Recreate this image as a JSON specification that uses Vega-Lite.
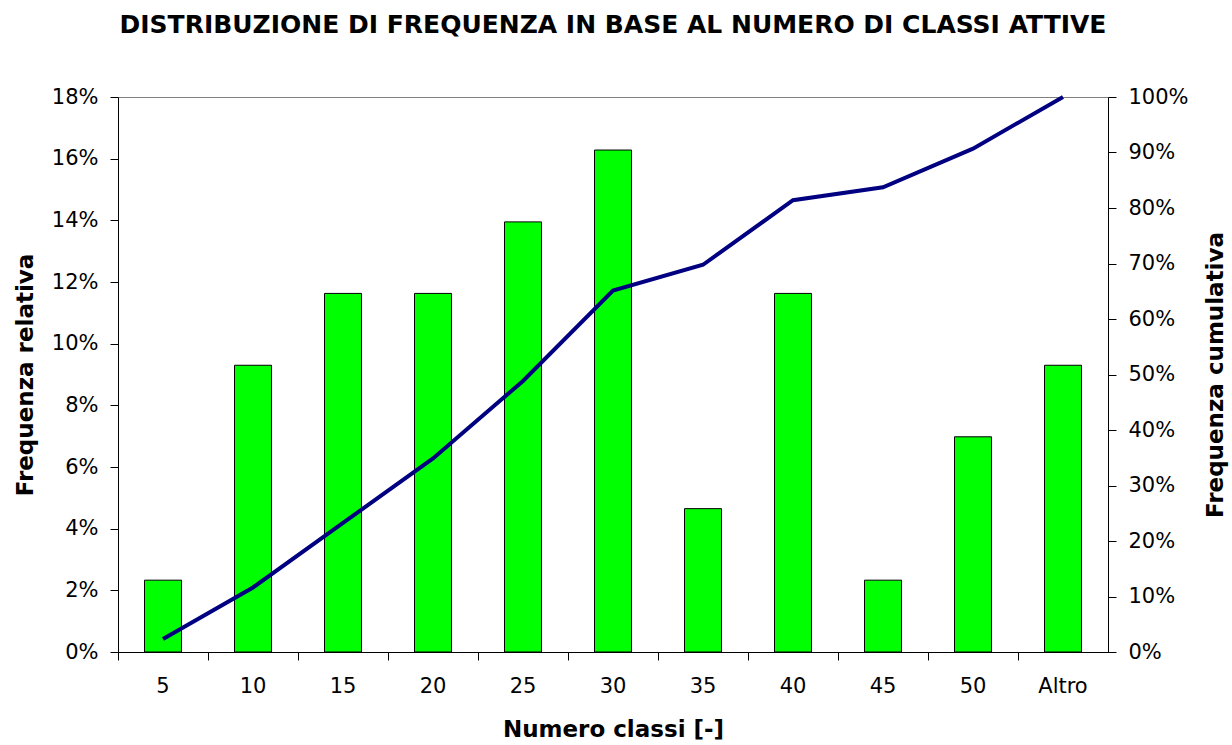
{
  "$schema": "https://vega.github.io/schema/vega-lite/v6.json",
  "width": 990,
  "height": 555,
  "autosize": "none",
  "padding": {"left": 118, "top": 97, "right": 124, "bottom": 93},
  "background": "white",
  "config": {
    "font": "DejaVu Sans",
    "view": {"stroke": "#808080", "strokeWidth": 1},
    "axis": {
      "labelFont": "DejaVu Sans",
      "labelFontSize": 21,
      "labelColor": "black",
      "titleFont": "DejaVu Sans",
      "titleFontSize": 23,
      "titleFontWeight": "bold",
      "titleColor": "black",
      "domainColor": "black",
      "tickColor": "black",
      "grid": false
    }
  },
  "title": {
    "text": "DISTRIBUZIONE DI FREQUENZA IN BASE AL NUMERO DI CLASSI ATTIVE",
    "font": "DejaVu Sans",
    "fontSize": 25,
    "fontWeight": "bold",
    "color": "black",
    "offset": 48
  },
  "data": {
    "values": [
      {"classe": "5", "freq": 0.0233, "cum": 0.0233},
      {"classe": "10", "freq": 0.0930, "cum": 0.1163},
      {"classe": "15", "freq": 0.1163, "cum": 0.2326},
      {"classe": "20", "freq": 0.1163, "cum": 0.3488},
      {"classe": "25", "freq": 0.1395, "cum": 0.4884},
      {"classe": "30", "freq": 0.1628, "cum": 0.6512},
      {"classe": "35", "freq": 0.0465, "cum": 0.6977},
      {"classe": "40", "freq": 0.1163, "cum": 0.8140},
      {"classe": "45", "freq": 0.0233, "cum": 0.8372},
      {"classe": "50", "freq": 0.0698, "cum": 0.9070},
      {"classe": "Altro", "freq": 0.0930, "cum": 1.0}
    ]
  },
  "encoding": {
    "x": {
      "field": "classe",
      "type": "ordinal",
      "sort": null,
      "scale": {"paddingInner": 0, "paddingOuter": 0},
      "axis": {
        "title": "Numero classi [-]",
        "labelAngle": 0,
        "bandPosition": 0,
        "tickSize": 8,
        "labelPadding": 15,
        "titlePadding": 22
      }
    }
  },
  "layer": [
    {
      "mark": {"type": "bar", "color": "#00FF00", "stroke": "black", "strokeWidth": 1, "size": 37},
      "encoding": {
        "y": {
          "field": "freq",
          "type": "quantitative",
          "scale": {"domain": [0, 0.18], "nice": false},
          "axis": {
            "title": "Frequenza relativa",
            "format": ".0%",
            "values": [0, 0.02, 0.04, 0.06, 0.08, 0.1, 0.12, 0.14, 0.16, 0.18],
            "tickSize": 8,
            "labelPadding": 12,
            "titlePadding": 14
          }
        }
      }
    },
    {
      "mark": {"type": "line", "color": "#000080", "strokeWidth": 4},
      "encoding": {
        "y": {
          "field": "cum",
          "type": "quantitative",
          "scale": {"domain": [0, 1], "nice": false},
          "axis": {
            "title": "Frequenza cumulativa",
            "orient": "right",
            "titleAngle": 270,
            "format": ".0%",
            "values": [0, 0.1, 0.2, 0.3, 0.4, 0.5, 0.6, 0.7, 0.8, 0.9, 1.0],
            "tickSize": 8,
            "labelPadding": 12,
            "titlePadding": 39
          }
        }
      }
    }
  ],
  "resolve": {"scale": {"y": "independent"}}
}
